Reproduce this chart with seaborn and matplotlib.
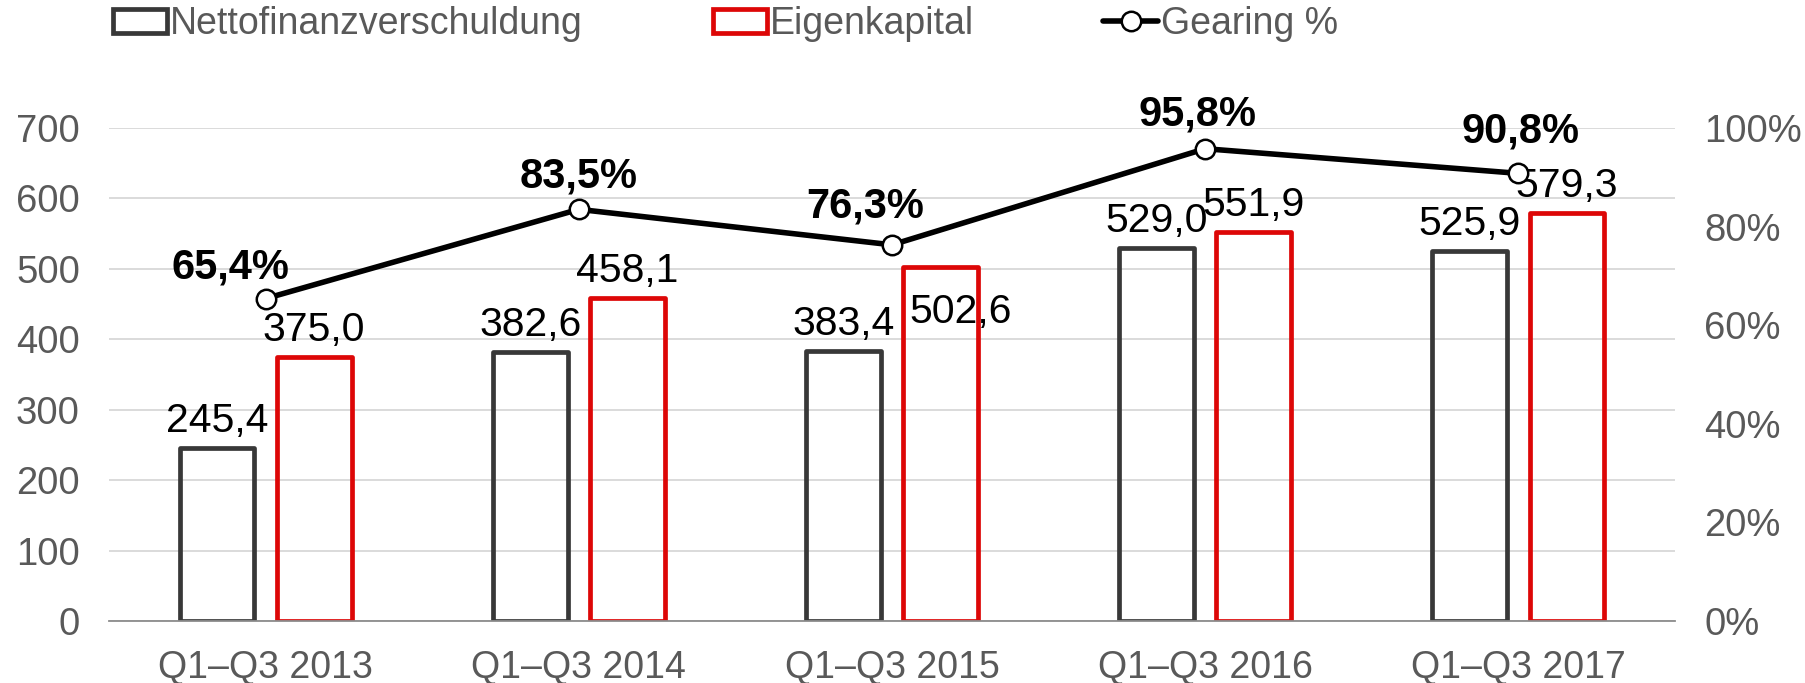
import numpy as np
import pandas as pd
import matplotlib
matplotlib.use("Agg")
import matplotlib.pyplot as plt
from matplotlib.patches import Patch
from matplotlib.lines import Line2D
import seaborn as sns

# ---------------- data ----------------
periods = ["Q1–Q3 2013", "Q1–Q3 2014", "Q1–Q3 2015", "Q1–Q3 2016", "Q1–Q3 2017"]
netto = [245.4, 382.6, 383.4, 529.0, 525.9]
eigen = [375.0, 458.1, 502.6, 551.9, 579.3]
gearing = [65.4, 83.5, 76.3, 95.8, 90.8]
series_names = ["Nettofinanzverschuldung", "Eigenkapital"]
gearing_name = "Gearing %"
left_ticks = [0, 100, 200, 300, 400, 500, 600, 700]
right_ticks = [0, 20, 40, 60, 80, 100]

# ---------------- style ----------------
sns.set_style("white")
plt.rcParams["font.family"] = ["Liberation Sans", "DejaVu Sans"]

DARK = "#383838"
RED = "#DD0707"
GRAY_TXT = "#595959"
GRID = "#D4D4D4"

W, H = 1806, 683
fig = plt.figure(figsize=(W / 100, H / 100), dpi=100)
x0, x1 = 109, 1675
ytop, ybot = 128, 621
ax = fig.add_axes([x0 / W, (H - ybot) / H, (x1 - x0) / W, (ybot - ytop) / H])

df = pd.DataFrame({
    "Periode": periods * 2,
    "Wert": netto + eigen,
    "Serie": [series_names[0]] * len(periods) + [series_names[1]] * len(periods),
})

sns.barplot(data=df, x="Periode", y="Wert", hue="Serie", order=periods,
            hue_order=series_names, palette=[DARK, RED], fill=False,
            width=0.62, gap=0.23, linewidth=3.4, errorbar=None, legend=False, ax=ax)
for p in ax.patches:
    p.set_joinstyle("round")

ax.set_xlim(-0.5, len(periods) - 0.5)
ax.set_ylim(0, 700)
ax.set_yticks(left_ticks)
ax.set_xlabel("")
ax.set_ylabel("")
ax.grid(axis="y", color=GRID, linewidth=1.2)
ax.grid(axis="x", visible=False)
ax.set_axisbelow(True)
for s in ["top", "right", "left"]:
    ax.spines[s].set_visible(False)
ax.spines["bottom"].set_color("#8C8C8C")
ax.spines["bottom"].set_linewidth(1.3)
ax.tick_params(axis="y", length=0, pad=21, labelsize=27.5, labelcolor=GRAY_TXT)
ax.tick_params(axis="x", length=0, pad=21, labelsize=27, labelcolor=GRAY_TXT)

def fmt(v):
    return f"{v:.1f}".replace(".", ",")

# bar value labels (offsets in px, converted to points)
PX = 0.72
bar_label_adjust = {(1, 2): (20, -56)}  # (series index, category index): (dx, dy) px
for si, cont in enumerate(ax.containers):
    vals = [netto, eigen][si]
    for ci, rect in enumerate(cont):
        cx = rect.get_x() + rect.get_width() / 2
        dx, dy = bar_label_adjust.get((si, ci), (0, 16))
        ax.annotate(fmt(vals[ci]), (cx, rect.get_height()),
                    xytext=(dx * PX, dy * PX), textcoords="offset points",
                    ha="center", va="baseline", fontsize=29.5, color="black",
                    annotation_clip=False)

# gearing line on the secondary axis
ax2 = ax.twinx()
sns.lineplot(x=np.arange(len(periods)), y=gearing, ax=ax2, color="black",
             linewidth=4, marker="o", markersize=14, markerfacecolor="white",
             markeredgecolor="black", markeredgewidth=1.8, legend=False)
ax2.set_ylim(0, 100)
ax2.set_yticks(right_ticks)
ax2.set_yticklabels([f"{t}%" for t in right_ticks])
ax2.tick_params(axis="y", length=0, pad=21, labelsize=27.5, labelcolor=GRAY_TXT)
for s in ax2.spines.values():
    s.set_visible(False)
ax2.grid(False)
ax2.set_xlim(-0.5, len(periods) - 0.5)

g_label_adjust = [(-35, 20), (0, 22), (-27, 27), (-8, 23), (2, 31)]
for i, g in enumerate(gearing):
    dx, dy = g_label_adjust[i]
    ax2.annotate(fmt(g) + "%", (i, g), xytext=(dx * PX, dy * PX),
                 textcoords="offset points", ha="center", va="baseline",
                 fontsize=30, fontweight="bold", color="black",
                 annotation_clip=False)

# legend
handles = [
    Patch(facecolor="white", edgecolor=DARK, linewidth=3.4),
    Patch(facecolor="white", edgecolor=RED, linewidth=3.4),
    Line2D([0], [0], color="black", linewidth=4, marker="o", markersize=14,
           markerfacecolor="white", markeredgecolor="black", markeredgewidth=1.8),
]
leg = fig.legend(handles, series_names + [gearing_name], loc="center left",
                 bbox_to_anchor=(113 / W, 1 - 24 / H), ncol=3, frameon=False,
                 fontsize=27, handlelength=1.45, handleheight=0.6, handletextpad=0.08,
                 columnspacing=3.45, borderpad=0, borderaxespad=0)
for t in leg.get_texts():
    t.set_color(GRAY_TXT)

fig.savefig("out.png", dpi=100)
